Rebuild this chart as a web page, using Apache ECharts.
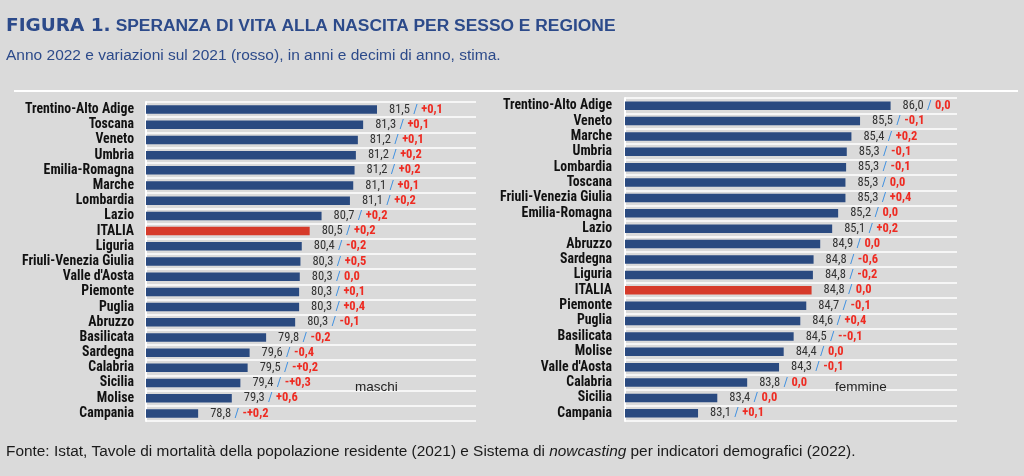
<!DOCTYPE html>
<html>
<head>
<meta charset="utf-8">
<script src="https://cdn.jsdelivr.net/npm/echarts@6/dist/echarts.min.js"></script>
<style>
html,body{margin:0;padding:0;background:#dadada;}
#c{width:1024px;height:476px;}
</style>
</head>
<body>
<div id="c"></div>
<script>
// ---- data ----
const maleRegions = ['Trentino-Alto Adige','Toscana','Veneto','Umbria','Emilia-Romagna','Marche','Lombardia','Lazio','ITALIA','Liguria','Friuli-Venezia Giulia',"Valle d'Aosta",'Piemonte','Puglia','Abruzzo','Basilicata','Sardegna','Calabria','Sicilia','Molise','Campania'];
const maleValues = [81.50,81.29,81.21,81.18,81.16,81.14,81.09,80.66,80.48,80.36,80.34,80.33,80.32,80.32,80.26,79.82,79.57,79.54,79.43,79.30,78.79];
const maleChange = ['+0,1','+0,1','+0,1','+0,2','+0,2','+0,1','+0,2','+0,2','+0,2','-0,2','+0,5','0,0','+0,1','+0,4','-0,1','-0,2','-0,4','-+0,2','-+0,3','+0,6','-+0,2'];

const femaleRegions = ['Trentino-Alto Adige','Veneto','Marche','Umbria','Lombardia','Toscana','Friuli-Venezia Giulia','Emilia-Romagna','Lazio','Abruzzo','Sardegna','Liguria','ITALIA','Piemonte','Puglia','Basilicata','Molise',"Valle d'Aosta",'Calabria','Sicilia','Campania'];
const femaleValues = [86.00,85.54,85.41,85.34,85.33,85.32,85.32,85.21,85.12,84.94,84.84,84.83,84.81,84.73,84.64,84.54,84.39,84.32,83.84,83.39,83.10];
const femaleChange = ['0,0','-0,1','+0,2','-0,1','-0,1','0,0','+0,4','0,0','+0,2','0,0','-0,6','-0,2','0,0','-0,1','+0,4','--0,1','0,0','-0,1','0,0','0,0','+0,1'];

const maleAxis = [78, 83];
const femaleAxis = [82, 87];

const titleText = 'SPERANZA DI VITA ALLA NASCITA PER SESSO E REGIONE';
const subtitleText = 'Anno 2022 e variazioni sul 2021 (rosso), in anni e decimi di anno, stima.';
const panelLabels = ['maschi', 'femmine'];

// ---- styles ----
const BLUE = '#2a4a80';
const RED = '#d63a2a';
const COND = '"Roboto Condensed", "Liberation Sans", sans-serif';
const SANS = '"Liberation Sans", Arial, sans-serif';

function barData(regions, values) {
  return values.map((v, i) => ({
    value: v,
    itemStyle: { color: regions[i] === 'ITALIA' ? RED : BLUE }
  }));
}
function fmt(v) { return v.toFixed(1).replace('.', ','); }
function labelFor(values, changes) {
  return function (p) {
    return '{v|' + fmt(values[p.dataIndex]) + '} {s|/} {c|' + changes[p.dataIndex] + '}';
  };
}
const rich = {
  v: { color: '#333333', fontSize: 12.5, fontFamily: COND },
  s: { color: '#3d8fe0', fontSize: 12.5, fontFamily: COND },
  c: { color: '#ee2b22', fontSize: 12.5, fontFamily: COND, fontWeight: 'bold' }
};
function yAx(gi, regions, margin) {
  return {
    type: 'category', gridIndex: gi, data: regions, inverse: true,
    axisTick: { show: false },
    axisLine: { show: true, lineStyle: { color: '#ffffff', width: 2 } },
    splitLine: { show: true, interval: 0, lineStyle: { color: '#ffffff', width: 1.5 } },
    axisLabel: { interval: 0, color: '#111111', fontWeight: 'bold', fontSize: 13.8, fontFamily: COND, margin: margin }
  };
}
function xAx(gi, range) {
  return {
    type: 'value', gridIndex: gi, min: range[0], max: range[1],
    axisLine: { show: false }, axisTick: { show: false }, axisLabel: { show: false },
    splitLine: { show: false }
  };
}

const chart = echarts.init(document.getElementById('c'), null, { renderer: 'canvas' });
chart.setOption({
  backgroundColor: '#dadada',
  animation: false,
  title: [
    { left: 6, top: 17, padding: 0, text: '{a|FIGURA 1.} {b|' + titleText + '}',
      textStyle: { rich: {
        a: { fontFamily: 'DejaVu Sans', fontWeight: 'bold', fontSize: 18.5, color: '#2c4a8a' },
        b: { fontFamily: SANS, fontWeight: 'bold', fontSize: 17.4, color: '#2c4a8a' } } } },
    { left: 6, top: 48, padding: 0, text: subtitleText,
      textStyle: { fontFamily: SANS, fontWeight: 'normal', fontSize: 15.5, color: '#2c4a8a' } },
    { left: 6, top: 444, padding: 0, text: 'Fonte: Istat, Tavole di mortalità della popolazione residente (2021) e Sistema di {i|nowcasting} per indicatori demografici (2022).',
      textStyle: { fontFamily: SANS, fontWeight: 'normal', fontSize: 15.4, color: '#1a1a1a',
        rich: { i: { fontFamily: SANS, fontStyle: 'italic', fontSize: 15.4, color: '#1a1a1a' } } } },
    { left: 355, top: 380, padding: 0, text: panelLabels[0],
      textStyle: { fontFamily: SANS, fontWeight: 'normal', fontSize: 13.5, color: '#222' } },
    { left: 835, top: 380, padding: 0, text: panelLabels[1],
      textStyle: { fontFamily: SANS, fontWeight: 'normal', fontSize: 13.5, color: '#222' } }
  ],
  graphic: [
    { type: 'line', shape: { x1: 14, y1: 91, x2: 1018, y2: 91 }, style: { stroke: '#ffffff', lineWidth: 2 } }
  ],
  grid: [
    { left: 146, top: 102, width: 330, height: 319 },
    { left: 625, top: 98, width: 332, height: 323 }
  ],
  xAxis: [xAx(0, maleAxis), xAx(1, femaleAxis)],
  yAxis: [yAx(0, maleRegions, 12), yAx(1, femaleRegions, 13)],
  series: [
    { type: 'bar', xAxisIndex: 0, yAxisIndex: 0, barWidth: 8.5,
      data: barData(maleRegions, maleValues),
      label: { show: true, position: 'right', distance: 12, formatter: labelFor(maleValues, maleChange), rich: rich } },
    { type: 'bar', xAxisIndex: 1, yAxisIndex: 1, barWidth: 8.5,
      data: barData(femaleRegions, femaleValues),
      label: { show: true, position: 'right', distance: 12, formatter: labelFor(femaleValues, femaleChange), rich: rich } }
  ]
});
</script>
</body>
</html>
